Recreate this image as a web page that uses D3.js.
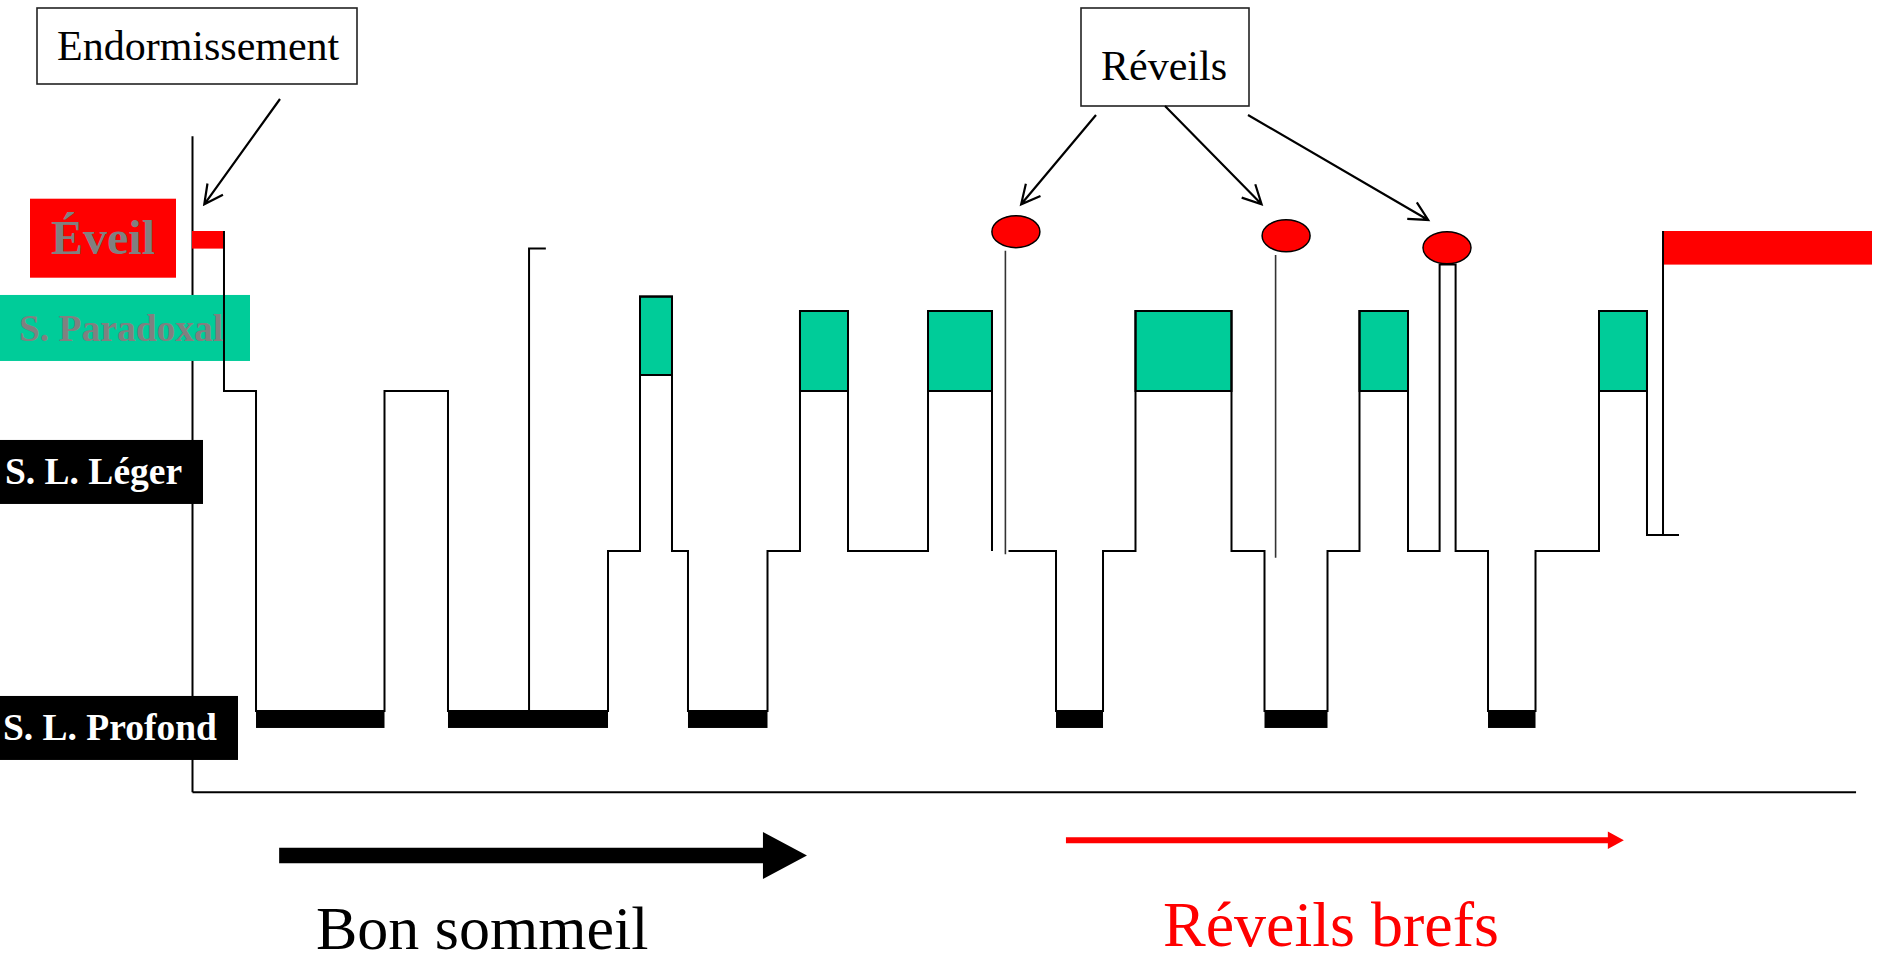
<!DOCTYPE html>
<html><head><meta charset="utf-8">
<script src="https://cdn.jsdelivr.net/npm/d3@7"></script>
<style>body{margin:0;background:#fff}svg{display:block}</style>
</head><body>
<script>
// ---------------- DATA (time in minutes, sleep level: 0 = deep, 1 = light, 2 = stage 1, 2.5 = REM top, 3 = wake) -------------
const stageLabels = ["Éveil", "S. Paradoxal", "S. L. Léger", "S. L. Profond"];
const stageLabelLevels = [2.955, 2.394, 1.494, -0.106];

// step traces: [minute, level]
const traceA = [[9.14,3],[9.14,2],[18.29,0],[55,2],[73.14,0],[118.86,1],[128,2.59],[137.14,1],[141.71,0],[164.43,1],[173.71,2.5],[187.43,1],[210.29,2.5],[228.57,1]];
const traceB = [[233.29,1],[246.86,0],[260.29,1],[269.57,2.5],[297,1],[306.43,0],[324.43,1],[333.57,2.5],[347.43,1],[356.46,2.79],[361.03,1],[370.29,0],[383.86,1],[402,2.5],[415.71,1.1],[424.86,1.1]];

// REM episodes: [start, end, low level, high level]
const remEpisodes = [[128,137.14,2.1,2.59],[173.71,187.43,2,2.5],[210.29,228.57,2,2.5],[269.57,297,2,2.5],[333.57,347.43,2,2.5],[402,415.71,2,2.5]];
// deep sleep episodes: [start, end]
const deepEpisodes = [[18.29,55],[73.14,118.86],[141.71,164.43],[246.86,260.29],[306.43,324.43],[370.29,383.86]];
// wake episodes: [start, end, low level]
const wakeEpisodes = [[0,9.14,2.89],[420.29,480,2.79]];
// brief arousal spike during deep sleep: [minute, from level, to level, tick end minute]
const arousalSpike = [96.3, 0, 2.89, 101.1];
// micro-arousal thin lines: [minute, low level, high level]
const microArousalLines = [[232.4,0.98,2.877],[309.6,0.958,2.85]];
// micro-arousal markers: [minute, level]
const arousalDots = [[235.4,2.996],[312.6,2.97],[358.57,2.895]];
// final awakening: [minute, from level, to level]
const finalWakeOnset = [420.29, 1.1, 3];

const annotationTexts = ["Endormissement", "Réveils"];
const endormTarget = [3.51, 3.167];
const reveilTargets = [[236.9,3.167],[305.6,3.167],[353.2,3.069]];
const bottomTexts = ["Bon sommeil", "Réveils brefs"];
const goodSleepPeriod = [24.9, 175.7];
const briefWakePeriod = [249.7, 409.1];
const axisExtentX = [0, 475.3];
const axisExtentY = [-0.505, 3.595];

// ---------------- DRAWING ----------------
const W = 1878, H = 963;
const FONT = "'Liberation Serif','Times New Roman',serif";
const RED = "#ff0000", TEAL = "#00cc99", GRAY = "#808080";

const x = d3.scaleLinear().domain([0, 480]).range([192, 1872]);
const y = d3.scaleLinear().domain([0, 3]).range([711, 231]);

const svg = d3.select("body").append("svg").attr("width", W).attr("height", H)
  .style("font-family", FONT);

// axes
const xAxisScale = d3.scaleLinear().domain(axisExtentX).range(axisExtentX.map(x));
const yAxisScale = d3.scaleLinear().domain(axisExtentY).range(axisExtentY.map(y));
const gx = svg.append("g").attr("transform", `translate(0,${y(axisExtentY[0])})`)
  .call(d3.axisBottom(xAxisScale).tickValues([]).tickSizeOuter(0));
const gy = svg.append("g").attr("transform", `translate(${x(0)},0)`)
  .call(d3.axisLeft(yAxisScale).tickValues([]).tickSizeOuter(0));
[gx, gy].forEach(g => g.select(".domain").attr("stroke", "#000").attr("stroke-width", 2));

// stage label boxes
const labelLayout = [
  {x0: 30, w: 146, h: 79, fill: RED, color: GRAY, tx: 51, size: 48, dy: 16},
  {x0: 0, w: 250, h: 66, fill: TEAL, color: GRAY, tx: 19, size: 37.5, dy: 13.5},
  {x0: 0, w: 203, h: 64, fill: "#000", color: "#fff", tx: 5, size: 37.5, dy: 12.5},
  {x0: 0, w: 238, h: 64, fill: "#000", color: "#fff", tx: 3, size: 37.5, dy: 12}
];
const lab = svg.append("g").selectAll("g").data(stageLabels).join("g");
lab.append("rect")
  .attr("x", (d, i) => labelLayout[i].x0)
  .attr("y", (d, i) => y(stageLabelLevels[i]) - labelLayout[i].h / 2)
  .attr("width", (d, i) => labelLayout[i].w)
  .attr("height", (d, i) => labelLayout[i].h)
  .attr("fill", (d, i) => labelLayout[i].fill);
lab.append("text")
  .attr("x", (d, i) => labelLayout[i].tx)
  .attr("y", (d, i) => y(stageLabelLevels[i]) + labelLayout[i].dy)
  .attr("font-size", (d, i) => labelLayout[i].size)
  .attr("font-weight", "bold")
  .attr("fill", (d, i) => labelLayout[i].color)
  .text(d => d);

// wake bars
svg.append("g").selectAll("rect").data(wakeEpisodes).join("rect")
  .attr("x", d => x(d[0])).attr("y", y(3))
  .attr("width", d => x(d[1]) - x(d[0]))
  .attr("height", d => y(d[2]) - y(3))
  .attr("fill", RED);

// deep bars
svg.append("g").selectAll("rect").data(deepEpisodes).join("rect")
  .attr("x", d => x(d[0])).attr("y", y(0))
  .attr("width", d => x(d[1]) - x(d[0]))
  .attr("height", y(-0.106) - y(0))
  .attr("fill", "#000");

// REM blocks
svg.append("g").selectAll("rect").data(remEpisodes).join("rect")
  .attr("x", d => x(d[0])).attr("y", d => y(d[3]))
  .attr("width", d => x(d[1]) - x(d[0]))
  .attr("height", d => y(d[2]) - y(d[3]))
  .attr("fill", TEAL).attr("stroke", "#000").attr("stroke-width", 2);

// hypnogram traces
const line = d3.line().x(d => x(d[0])).y(d => y(d[1])).curve(d3.curveStepAfter);
svg.append("g").selectAll("path").data([traceA, traceB]).join("path")
  .attr("d", line).attr("fill", "none").attr("stroke", "#000").attr("stroke-width", 2);

// arousal spike
svg.append("path")
  .attr("d", `M${x(arousalSpike[0])},${y(arousalSpike[1])}V${y(arousalSpike[2])}H${x(arousalSpike[3])}`)
  .attr("fill", "none").attr("stroke", "#000").attr("stroke-width", 2);

// final wake onset
svg.append("line")
  .attr("x1", x(finalWakeOnset[0])).attr("x2", x(finalWakeOnset[0]))
  .attr("y1", y(finalWakeOnset[1])).attr("y2", y(finalWakeOnset[2]))
  .attr("stroke", "#000").attr("stroke-width", 2);

// micro-arousal thin lines
svg.append("g").selectAll("line").data(microArousalLines).join("line")
  .attr("x1", d => x(d[0])).attr("x2", d => x(d[0]))
  .attr("y1", d => y(d[1])).attr("y2", d => y(d[2]))
  .attr("stroke", "#333").attr("stroke-width", 1.6);

// dots
svg.append("g").selectAll("ellipse").data(arousalDots).join("ellipse")
  .attr("cx", d => x(d[0])).attr("cy", d => y(d[1]))
  .attr("rx", 24).attr("ry", 16)
  .attr("fill", RED).attr("stroke", "#000").attr("stroke-width", 1.5);

// annotation boxes
const annLayout = [
  {bx: 37, by: 8, bw: 320, bh: 76, tx: 57, ty: 60},
  {bx: 1081, by: 8, bw: 168, bh: 98, tx: 1101, ty: 80}
];
const ann = svg.append("g").selectAll("g").data(annotationTexts).join("g");
ann.append("rect")
  .attr("x", (d, i) => annLayout[i].bx).attr("y", (d, i) => annLayout[i].by)
  .attr("width", (d, i) => annLayout[i].bw).attr("height", (d, i) => annLayout[i].bh)
  .attr("fill", "#fff").attr("stroke", "#222").attr("stroke-width", 1.6);
ann.append("text")
  .attr("x", (d, i) => annLayout[i].tx).attr("y", (d, i) => annLayout[i].ty)
  .attr("font-size", 42).attr("fill", "#000").text(d => d);

// arrows
function arrow(x1, y1, x2, y2) {
  const a = Math.atan2(y1 - y2, x1 - x2), L = 21, h = 27 * Math.PI / 180;
  const p1 = [x2 + L * Math.cos(a + h), y2 + L * Math.sin(a + h)];
  const p2 = [x2 + L * Math.cos(a - h), y2 + L * Math.sin(a - h)];
  svg.append("path")
    .attr("d", `M${x1},${y1}L${x2},${y2}M${p1[0]},${p1[1]}L${x2},${y2}L${p2[0]},${p2[1]}`)
    .attr("fill", "none").attr("stroke", "#000").attr("stroke-width", 2.2)
    .attr("stroke-linejoin", "miter");
}
arrow(280, 99, x(endormTarget[0]), y(endormTarget[1]));
const reveilStarts = [[1096, 115], [1165, 106], [1248, 115]];
reveilTargets.forEach((t, i) => arrow(reveilStarts[i][0], reveilStarts[i][1], x(t[0]), y(t[1])));

// bottom block arrows
function blockArrow(t0, t1, cy, shaftH, headH, headL, color) {
  const xa = x(t0), xt = x(t1), xb = xt - headL;
  svg.append("path")
    .attr("d", `M${xa},${cy - shaftH / 2}H${xb}V${cy - headH / 2}L${xt},${cy}L${xb},${cy + headH / 2}V${cy + shaftH / 2}H${xa}Z`)
    .attr("fill", color);
}
blockArrow(goodSleepPeriod[0], goodSleepPeriod[1], 855.5, 15.6, 47, 44, "#000");
blockArrow(briefWakePeriod[0], briefWakePeriod[1], 840.3, 6, 17.5, 16, RED);

// bottom texts
svg.append("text").attr("x", 316).attr("y", 949).attr("font-size", 62).attr("fill", "#000").text(bottomTexts[0]);
svg.append("text").attr("x", 1163).attr("y", 946).attr("font-size", 64).attr("fill", RED).text(bottomTexts[1]);
</script>
</body></html>
